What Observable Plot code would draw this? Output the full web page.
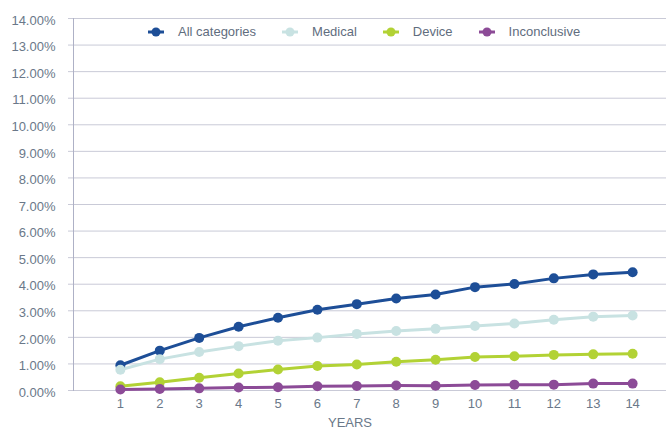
<!DOCTYPE html>
<html><head><meta charset="utf-8">
<script src="https://cdn.jsdelivr.net/npm/d3@7"></script>
<script src="https://cdn.jsdelivr.net/npm/@observablehq/plot@0.6"></script>
<style>
body{margin:0;background:#fff;font-family:"Liberation Sans",Arial,sans-serif;}
#wrap{position:relative;width:666px;height:430px;}
#legend{position:absolute;top:24px;left:148px;display:flex;align-items:center;font-size:13px;color:#5f6d7e;line-height:16px;white-space:nowrap;}
.item{display:flex;align-items:center;margin-right:26px;}
.item svg{margin-right:14px;}
</style></head><body>
<div id="wrap"><div id="chart"></div><div id="legend"></div></div>
<script>
const years = [1,2,3,4,5,6,7,8,9,10,11,12,13,14];
const seriesNames = ["All categories","Medical","Device","Inconclusive"];
const seriesColors = ["#1d4e97","#c8e2e2","#b2d235","#8c4b97"];
const allCategories = [0.95,1.50,1.98,2.40,2.74,3.04,3.25,3.46,3.61,3.89,4.01,4.22,4.37,4.45];
const medical       = [0.78,1.18,1.45,1.67,1.87,1.99,2.13,2.24,2.32,2.43,2.52,2.66,2.78,2.82];
const device        = [0.16,0.31,0.48,0.64,0.79,0.92,0.98,1.08,1.16,1.26,1.29,1.34,1.36,1.38];
const inconclusive  = [0.04,0.06,0.08,0.11,0.12,0.16,0.17,0.19,0.18,0.21,0.22,0.22,0.26,0.26];
const yTicks = [0,0.01,0.02,0.03,0.04,0.05,0.06,0.07,0.08,0.09,0.10,0.11,0.12,0.13,0.14];

const seriesValues = [allCategories, medical, device, inconclusive];
const data = seriesNames.flatMap((s, i) => years.map((yr, j) => ({series: s, year: yr, value: seriesValues[i][j] / 100})));

const gridColor = "#c9cad7";
const textColor = "#6a7889";

const chart = Plot.plot({
  width: 666, height: 430,
  marginLeft: 73, marginRight: 0, marginTop: 18, marginBottom: 40,
  style: {fontFamily: '"Liberation Sans", Arial, sans-serif', fontSize: "13px", background: "white", color: textColor},
  x: {type: "linear", domain: [-0.19, 14.86]},
  y: {domain: [0, 0.14]},
  color: {domain: seriesNames, range: seriesColors},
  marks: [
    Plot.ruleY(yTicks, {stroke: gridColor, strokeWidth: 1}),
    Plot.axisY(yTicks, {tickSize: 5, fill: "none", stroke: gridColor, label: null}),
    Plot.axisY(yTicks, {tickSize: 5, tickPadding: 13, stroke: "none", fill: textColor, dy: 2, label: null, tickFormat: d => (d * 100).toFixed(2) + "%"}),
    Plot.frame({anchor: "left", stroke: "#aeb1c6"}),
    Plot.axisX(years, {tickSize: 0, tickPadding: 8, fill: textColor, label: null, tickFormat: d => String(d)}),
    Plot.text(["YEARS"], {frameAnchor: "bottom", dx: -20, dy: 36, fill: textColor, fontSize: 13}),
    Plot.line(data, {x: "year", y: "value", z: "series", stroke: "series", strokeWidth: 3}),
    Plot.dot(data, {x: "year", y: "value", fill: "series", r: 5})
  ]
});
document.getElementById("chart").appendChild(chart);

const legend = document.getElementById("legend");
seriesNames.forEach((name, i) => {
  const item = document.createElement("div");
  item.className = "item";
  item.innerHTML = `<svg width="16" height="10"><line x1="0" y1="5" x2="16" y2="5" stroke="${seriesColors[i]}" stroke-width="3"/><circle cx="8" cy="5" r="4.5" fill="${seriesColors[i]}"/></svg><span>${name}</span>`;
  legend.appendChild(item);
});
</script>
</body></html>
